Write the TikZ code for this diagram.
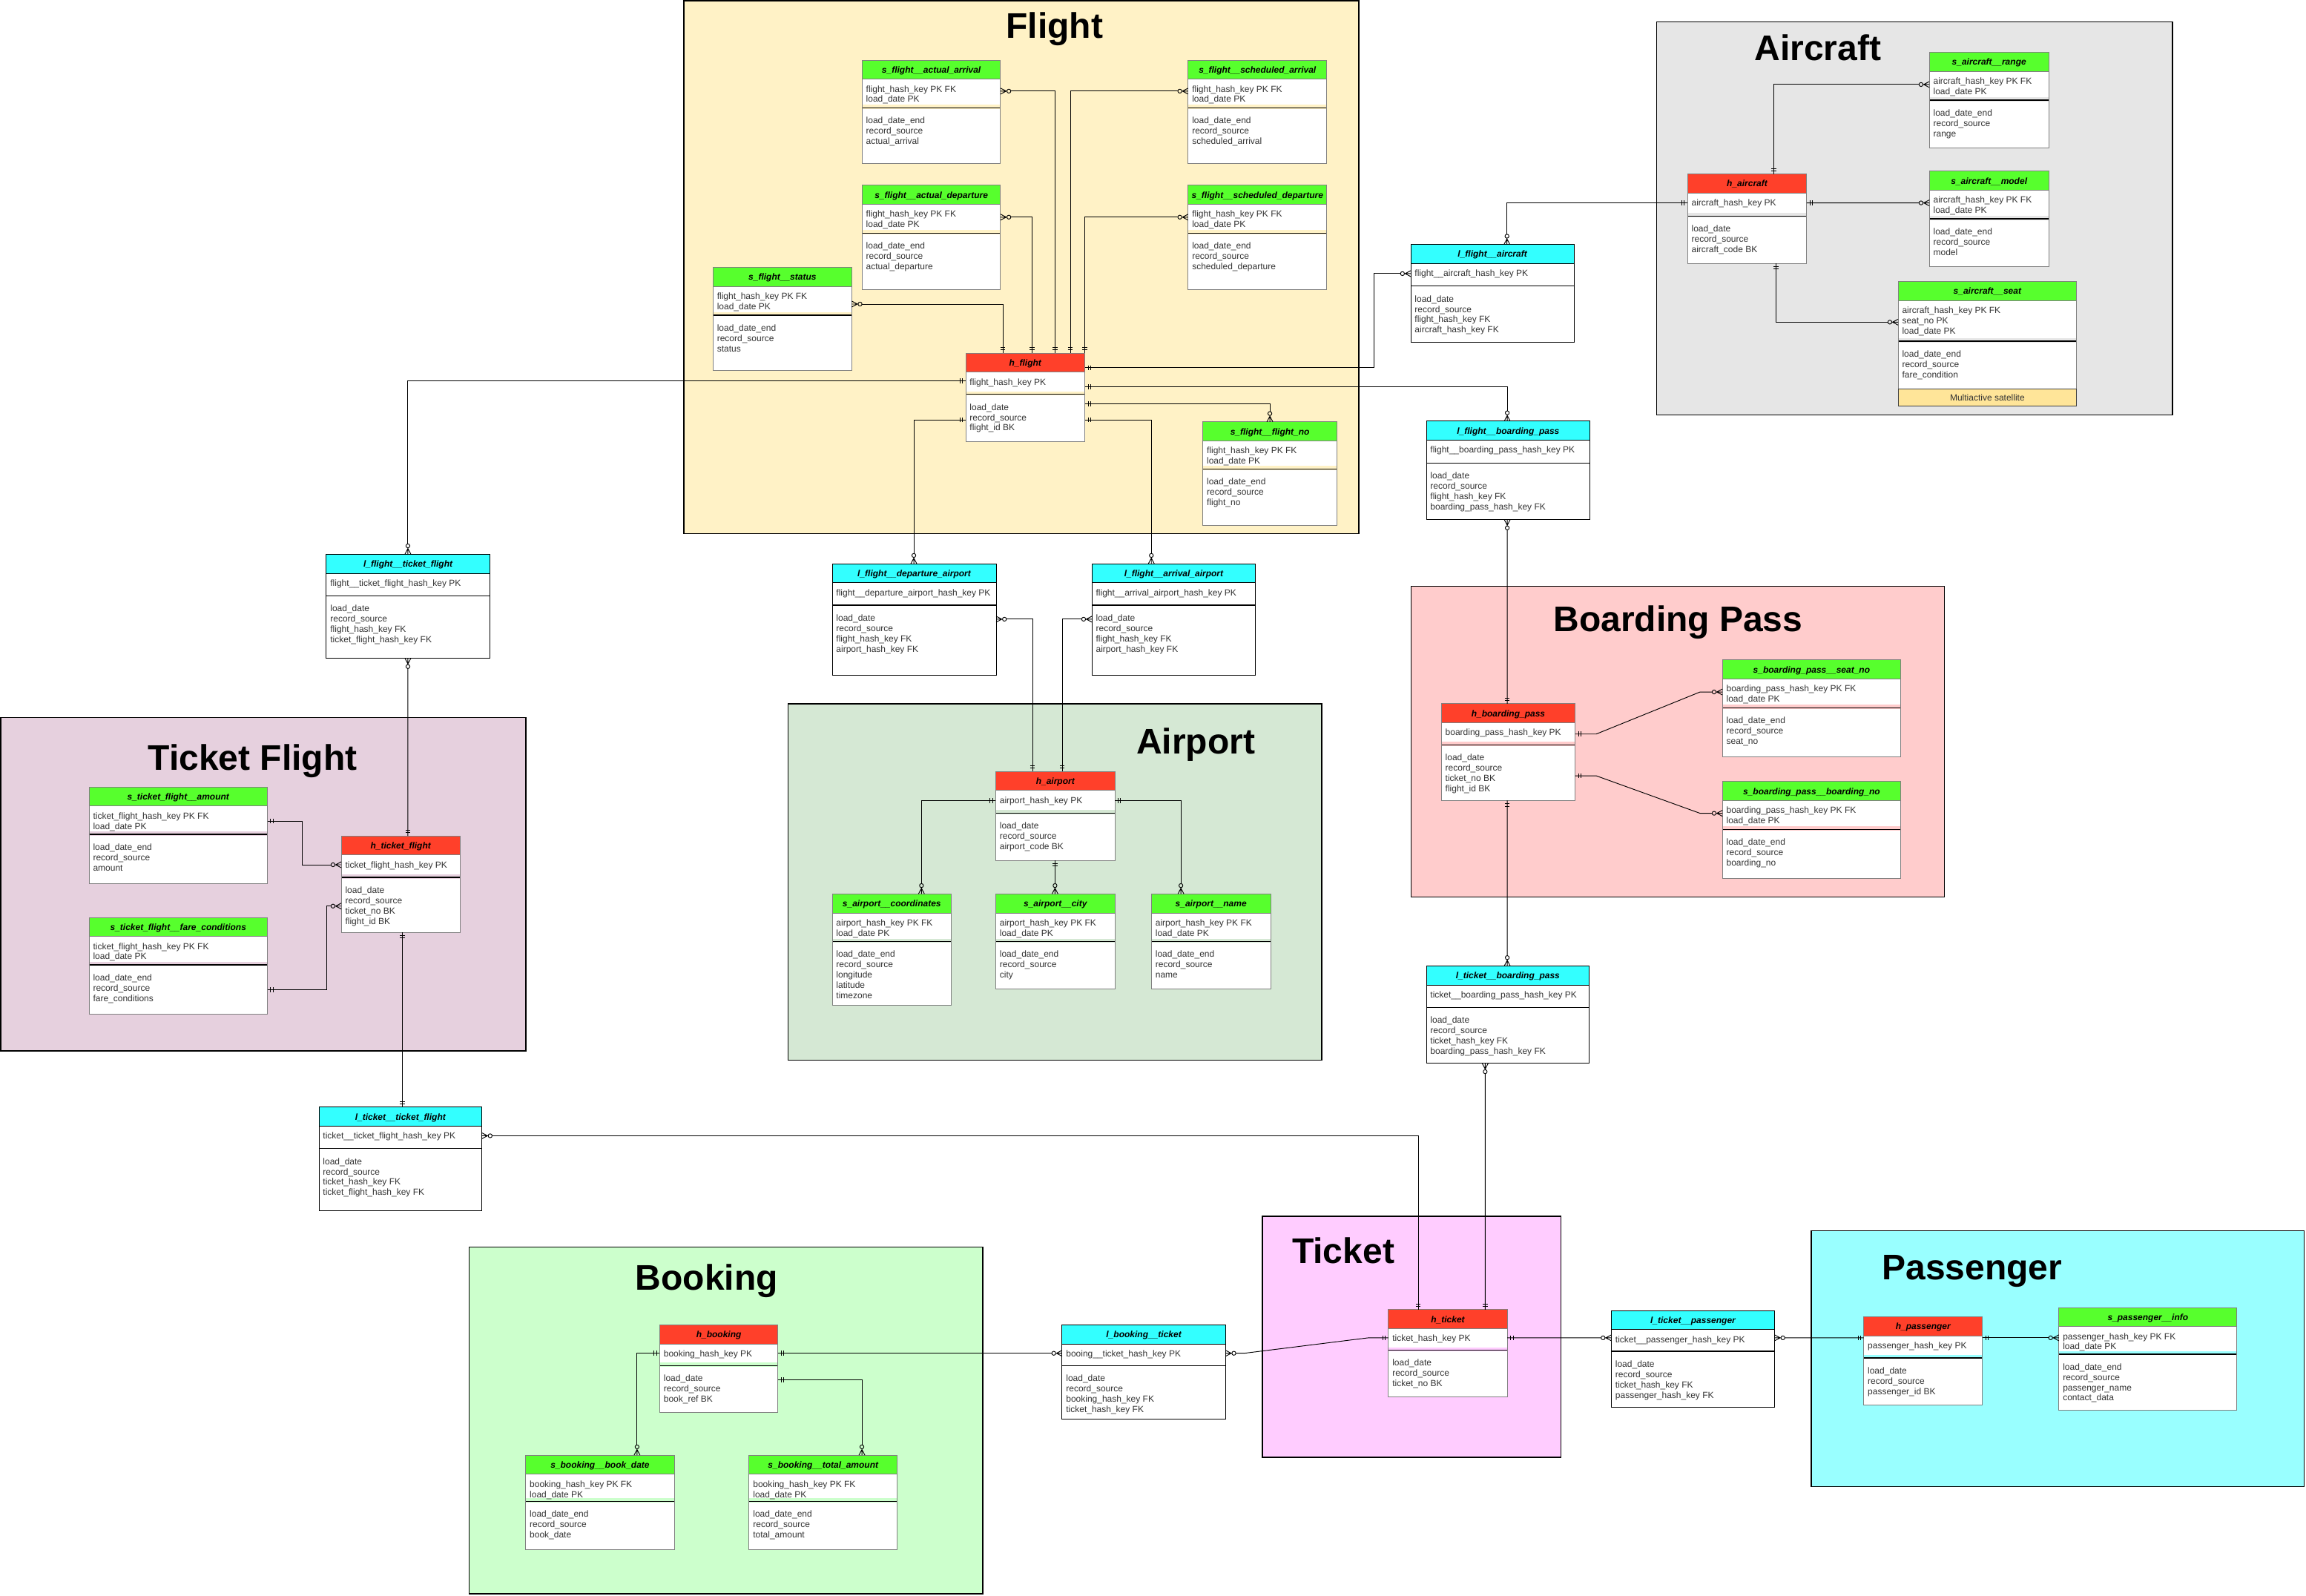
\documentclass[tikz,border=0pt]{standalone}
\usepackage{fontspec}
\setmainfont{Liberation Sans}
\usetikzlibrary{calc,fit}

\definecolor{hubc}{HTML}{FF402A}
\definecolor{satc}{HTML}{57FF2D}
\definecolor{lnkc}{HTML}{33FFFF}
\definecolor{multic}{HTML}{FFE599}
\definecolor{gFlight}{HTML}{FFF2C6}
\definecolor{gAircraft}{HTML}{E6E6E6}
\definecolor{gBP}{HTML}{FFCCCC}
\definecolor{gTF}{HTML}{E6D0DE}
\definecolor{gAirport}{HTML}{D5E8D4}
\definecolor{gBooking}{HTML}{CCFFCC}
\definecolor{gTicket}{HTML}{FFCCFF}
\definecolor{gPass}{HTML}{99FFFF}
\definecolor{bodyc}{HTML}{333333}
\definecolor{edgec}{HTML}{808080}

\pgfdeclarearrow{
  name = ERone,
  setup code = {
    \pgfarrowssettipend{0pt}
    \pgfarrowssetlineend{0pt}
    \pgfarrowssetvisualbackend{-7pt}
    \pgfarrowssetbackend{-7pt}
  },
  drawing code = {
    \pgfsetlinewidth{0.7pt}
    \pgfsetbuttcap
    \pgfpathmoveto{\pgfqpoint{-3.3pt}{-2.5pt}}
    \pgfpathlineto{\pgfqpoint{-3.3pt}{2.5pt}}
    \pgfpathmoveto{\pgfqpoint{-5.8pt}{-2.5pt}}
    \pgfpathlineto{\pgfqpoint{-5.8pt}{2.5pt}}
    \pgfusepathqstroke
  }
}
\pgfdeclarearrow{
  name = ERmany,
  setup code = {
    \pgfarrowssettipend{0pt}
    \pgfarrowssetlineend{-10.4pt}
    \pgfarrowssetvisualbackend{-10.4pt}
    \pgfarrowssetbackend{-10.4pt}
  },
  drawing code = {
    \pgfsetlinewidth{0.7pt}
    \pgfsetbuttcap
    \pgfsetroundjoin
    \pgfpathmoveto{\pgfqpoint{0pt}{3pt}}
    \pgfpathlineto{\pgfqpoint{-5.7pt}{0pt}}
    \pgfpathlineto{\pgfqpoint{0pt}{-3pt}}
    \pgfpathmoveto{\pgfqpoint{0pt}{0pt}}
    \pgfpathlineto{\pgfqpoint{-6.4pt}{0pt}}
    \pgfusepathqstroke
    \pgfpathcircle{\pgfqpoint{-8.4pt}{0pt}}{2pt}
    \pgfusepathqstroke
  }
}

\tikzset{
  hubH/.style={fill=hubc}, hubL/.style={draw=edgec, line width=0.75pt},
  satH/.style={fill=satc}, satL/.style={draw=edgec, line width=0.75pt},
  lnkH/.style={fill=lnkc}, lnkL/.style={draw=black, line width=0.75pt},
  grp/.style={draw=black, line width=1.1pt, inner sep=0pt},
  conn/.style={draw=black, line width=0.7pt},
  tabbox/.style={inner sep=0pt, fill=white, draw=none},
  hdrtxt/.style={font=\fontsize{9pt}{10pt}\selectfont\bfseries\itshape, text=black, inner sep=0pt, anchor=base},
  bodytxt/.style={font=\fontsize{9pt}{10pt}\selectfont, text=bodyc, inner sep=0pt, anchor=base west},
  ttl/.style={font=\fontsize{36pt}{40pt}\selectfont\bfseries, text=black, inner sep=0pt, anchor=base},
}

\newcommand\ertab[9]{%
  \def\tN{#1}\def\tXa{#2}\def\tYa{#3}\def\tXb{#4}\def\tYb{#5}\def\tD{#6}\def\tT{#9}%
  \tikzset{curH/.style={#7H}, curL/.style={#7L}, curB/.style={fill=#8}}%
  \ertabB}
\newcommand\ertabB[2]{%
  \node[tabbox, fit={(\tXa,\tYa) (\tXb,\tYb)}] (\tN) {};
  \fill[curH] (\tN.north west) rectangle ($(\tN.north east)+(0,13)$);
  \fill[curB] ($(\tN.north west)+(0,{\tD-2})$) rectangle ($(\tN.north east)+(0,{\tD+0.8})$);
  \draw[black, line width=1pt] ($(\tN.north west)+(0,\tD)$) -- ($(\tN.north east)+(0,\tD)$);
  \draw[curL] ($(\tN.north west)+(0,13)$) -- ($(\tN.north east)+(0,13)$);
  \draw[curL] (\tN.north west) rectangle (\tN.south east);
  \node[hdrtxt] (\tN-h) at ($(\tN.north)+(0,8.7)$) {\tT};
  \foreach \itm [count=\nn] in {#1} {\node[bodytxt] (\tN-k\nn) at ($(\tN.north west)+(2.6,{21.7+(\nn-1)*7})$) {\itm};}
  \foreach \itm [count=\nn] in {#2} {\node[bodytxt] (\tN-a\nn) at ($(\tN.north west)+(2.6,{\tD+10.8+(\nn-1)*7})$) {\itm};}
}

\begin{document}
\catcode`\_=12
\begin{tikzpicture}[x=1.4873pt, y=-1.4873pt]
\useasboundingbox (0,0) rectangle (1568,1085);

% ---------- groups ----------
\node[grp, fill=gFlight, fit={(465,0.6) (924,363)}] (gFlightBox) {};
\node[grp, fill=gAircraft, fit={(1126.4,15) (1477.2,282.1)}] (gAircraftBox) {};
\node[grp, fill=gBP, fit={(959.4,398.7) (1322,610)}] (gBPBox) {};
\node[grp, fill=gTF, fit={(0.6,488) (357.6,714.7)}] (gTFBox) {};
\node[grp, fill=gAirport, fit={(535.8,478.5) (898.8,721)}] (gAirportBox) {};
\node[grp, fill=gBooking, fit={(319,848) (668.3,1083.8)}] (gBookingBox) {};
\node[grp, fill=gTicket, fit={(858.3,827) (1061.4,991)}] (gTicketBox) {};
\node[grp, fill=gPass, fit={(1231.7,837) (1566.8,1011)}] (gPassBox) {};

\node[ttl] (tFlight) at (717,26) {Flight};
\node[ttl] (tAircraft) at (1236,41) {Aircraft};
\node[ttl] (tBP) at (1141,429.5) {Boarding Pass};
\node[ttl] (tTF) at (171.8,524) {Ticket Flight};
\node[ttl] (tAirport) at (813,512.8) {Airport};
\node[ttl] (tBooking) at (480.6,877.3) {Booking};
\node[ttl] (tTicket) at (913.4,859) {Ticket};
\node[ttl] (tPass) at (1341,870) {Passenger};

% ---------- Flight ----------
\ertab{sfaa}{586.3}{41}{680.2}{111.3}{32.4}{sat}{gFlight}{s_flight__actual_arrival}{flight_hash_key PK FK, load_date PK}{load_date_end, record_source, actual_arrival}
\ertab{sfsa}{808}{41}{902}{111.3}{32.4}{sat}{gFlight}{s_flight__scheduled_arrival}{flight_hash_key PK FK, load_date PK}{load_date_end, record_source, scheduled_arrival}
\ertab{sfad}{586.3}{126.2}{680.2}{196.8}{32.4}{sat}{gFlight}{s_flight__actual_departure}{flight_hash_key PK FK, load_date PK}{load_date_end, record_source, actual_departure}
\ertab{sfsd}{808}{126.2}{902}{196.8}{32.4}{sat}{gFlight}{s_flight__scheduled_departure}{flight_hash_key PK FK, load_date PK}{load_date_end, record_source, scheduled_departure}
\ertab{sfst}{485}{182}{579}{252}{32.4}{sat}{gFlight}{s_flight__status}{flight_hash_key PK FK, load_date PK}{load_date_end, record_source, status}
\ertab{hf}{656.8}{240.3}{737.5}{300}{28}{hub}{gFlight}{h_flight}{flight_hash_key PK}{load_date, record_source, flight_id BK}
\ertab{sffn}{818}{287}{909}{357}{32}{sat}{gFlight}{s_flight__flight_no}{flight_hash_key PK FK, load_date PK}{load_date_end, record_source, flight_no}

% ---------- Aircraft ----------
\ertab{sar}{1312}{35.8}{1393}{100.4}{32.4}{sat}{gAircraft}{s_aircraft__range}{aircraft_hash_key PK FK, load_date PK}{load_date_end, record_source, range}
\ertab{ha}{1147.6}{118.5}{1228.4}{179}{28.5}{hub}{gAircraft}{h_aircraft}{aircraft_hash_key PK}{load_date, record_source, aircraft_code BK}
\ertab{sam}{1312}{116.6}{1393}{181}{32.3}{sat}{gAircraft}{s_aircraft__model}{aircraft_hash_key PK FK, load_date PK}{load_date_end, record_source, model}
\ertab{sas}{1290.8}{191.6}{1411.8}{276.2}{40.6}{sat}{gAircraft}{s_aircraft__seat}{aircraft_hash_key PK FK, seat_no PK, load_date PK}{load_date_end, record_source, fare_condition}
\fill[multic] ($(sas.south west)+(0,-11.7)$) rectangle (sas.south east);
\draw[black!75, line width=0.75pt] ($(sas.south west)+(0,-11.7)$) rectangle (sas.south east);
\node[bodytxt, anchor=base] (sasm) at ($(sas.south)+(0,-3.6)$) {Multiactive satellite};
\ertab{lfa}{959.4}{166.4}{1070.2}{232.8}{28.3}{lnk}{white}{l_flight__aircraft}{flight__aircraft_hash_key PK}{load_date, record_source, flight_hash_key FK, aircraft_hash_key FK}

% ---------- Boarding pass ----------
\ertab{lfbp}{970}{286.5}{1081}{353.2}{28.5}{lnk}{white}{l_flight__boarding_pass}{flight__boarding_pass_hash_key PK}{load_date, record_source, flight_hash_key FK, boarding_pass_hash_key FK}
\ertab{hbp}{980.2}{478.7}{1070.9}{544.2}{28}{hub}{gBP}{h_boarding_pass}{boarding_pass_hash_key PK}{load_date, record_source, ticket_no BK, flight_id BK}
\ertab{sbps}{1171.3}{448.9}{1292.3}{514.5}{32.5}{sat}{gBP}{s_boarding_pass__seat_no}{boarding_pass_hash_key PK FK, load_date PK}{load_date_end, record_source, seat_no}
\ertab{sbpb}{1171.3}{531.6}{1292.3}{597.2}{32.5}{sat}{gBP}{s_boarding_pass__boarding_no}{boarding_pass_hash_key PK FK, load_date PK}{load_date_end, record_source, boarding_no}
\ertab{ltbp}{970}{657}{1080.5}{723}{28.3}{lnk}{white}{l_ticket__boarding_pass}{ticket__boarding_pass_hash_key PK}{load_date, record_source, ticket_hash_key FK, boarding_pass_hash_key FK}

% ---------- Ticket flight ----------
\ertab{lftf}{222}{377}{332.9}{447.5}{28.2}{lnk}{white}{l_flight__ticket_flight}{flight__ticket_flight_hash_key PK}{load_date, record_source, flight_hash_key FK, ticket_flight_hash_key FK}
\ertab{stfa}{60.7}{535.3}{181.7}{600.6}{32.2}{sat}{gTF}{s_ticket_flight__amount}{ticket_flight_hash_key PK FK, load_date PK}{load_date_end, record_source, amount}
\ertab{stfc}{60.7}{624}{181.7}{689.5}{32.2}{sat}{gTF}{s_ticket_flight__fare_conditions}{ticket_flight_hash_key PK FK, load_date PK}{load_date_end, record_source, fare_conditions}
\ertab{htf}{232.2}{568.6}{312.7}{633.9}{28.2}{hub}{gTF}{h_ticket_flight}{ticket_flight_hash_key PK}{load_date, record_source, ticket_no BK, flight_id BK}
\ertab{lttf}{217}{753}{327.5}{823}{28.2}{lnk}{white}{l_ticket__ticket_flight}{ticket__ticket_flight_hash_key PK}{load_date, record_source, ticket_hash_key FK, ticket_flight_hash_key FK}

% ---------- Airport ----------
\ertab{lfda}{566}{383.5}{677.2}{458.9}{28.2}{lnk}{white}{l_flight__departure_airport}{flight__departure_airport_hash_key PK}{load_date, record_source, flight_hash_key FK, airport_hash_key FK}
\ertab{lfaa}{742.6}{383.5}{853.6}{458.9}{28.2}{lnk}{white}{l_flight__arrival_airport}{flight__arrival_airport_hash_key PK}{load_date, record_source, flight_hash_key FK, airport_hash_key FK}
\ertab{hap}{677.2}{524.7}{757.9}{585}{28.4}{hub}{gAirport}{h_airport}{airport_hash_key PK}{load_date, record_source, airport_code BK}
\ertab{sac}{566}{608}{646.7}{683.4}{32.4}{sat}{gAirport}{s_airport__coordinates}{airport_hash_key PK FK, load_date PK}{load_date_end, record_source, longitude, latitude, timezone}
\ertab{scity}{677.2}{608}{757.9}{672.3}{32.4}{sat}{gAirport}{s_airport__city}{airport_hash_key PK FK, load_date PK}{load_date_end, record_source, city}
\ertab{san}{783.1}{608}{863.8}{672.3}{32.4}{sat}{gAirport}{s_airport__name}{airport_hash_key PK FK, load_date PK}{load_date_end, record_source, name}

% ---------- Booking ----------
\ertab{hb}{448.7}{901}{528.8}{960.2}{27.8}{hub}{gBooking}{h_booking}{booking_hash_key PK}{load_date, record_source, book_ref BK}
\ertab{lbt}{722.3}{901}{833.2}{965}{27.8}{lnk}{white}{l_booking__ticket}{booing__ticket_hash_key PK}{load_date, record_source, booking_hash_key FK, ticket_hash_key FK}
\ertab{sbd}{357.6}{989.7}{458.4}{1053.6}{31.4}{sat}{gBooking}{s_booking__book_date}{booking_hash_key PK FK, load_date PK}{load_date_end, record_source, book_date}
\ertab{sbt}{509.5}{989.7}{609.9}{1053.6}{31.4}{sat}{gBooking}{s_booking__total_amount}{booking_hash_key PK FK, load_date PK}{load_date_end, record_source, total_amount}

% ---------- Ticket / Passenger ----------
\ertab{ht}{944.2}{890.7}{1024.8}{949.8}{27.6}{hub}{gTicket}{h_ticket}{ticket_hash_key PK}{load_date, record_source, ticket_no BK}
\ertab{ltp}{1095.8}{891.3}{1206.5}{956.8}{27.8}{lnk}{white}{l_ticket__passenger}{ticket__passenger_hash_key PK}{load_date, record_source, ticket_hash_key FK, passenger_hash_key FK}
\ertab{hp}{1267.4}{895.7}{1347.9}{955.3}{27.8}{hub}{gPass}{h_passenger}{passenger_hash_key PK}{load_date, record_source, passenger_id BK}
\ertab{spi}{1400.1}{889.3}{1520.9}{958.9}{31.7}{sat}{gPass}{s_passenger__info}{passenger_hash_key PK FK, load_date PK}{load_date_end, record_source, passenger_name, contact_data}

% ---------- connectors ----------
% flight satellites
\draw[conn,{ERmany}-{ERone}] ($(sfst.north east)+(0,24.9)$) -| ($(hf.north west)+(25.2,0)$);
\draw[conn,{ERmany}-{ERone}] ($(sfad.north east)+(0,21.6)$) -| ($(hf.north west)+(45.1,0)$);
\draw[conn,{ERmany}-{ERone}] ($(sfaa.north east)+(0,21.1)$) -| ($(hf.north west)+(60.7,0)$);
\draw[conn,{ERmany}-{ERone}] ($(sfsa.north west)+(0,21.1)$) -| ($(hf.north west)+(71.1,0)$);
\draw[conn,{ERmany}-{ERone}] ($(sfsd.north west)+(0,21.6)$) -| (hf.north east);
\draw[conn,{ERmany}-{ERone}] ($(sffn.north west)+(45.6,0)$) |- ($(hf.north east)+(0,34.3)$);
% flight links
\draw[conn,{ERmany}-{ERone}] ($(lfa.north west)+(0,19.8)$) -- ++(-25,0) |- ($(hf.north east)+(0,9.9)$);
\draw[conn,{ERmany}-{ERone}] ($(lfbp.north west)+(55,0)$) |- ($(hf.north east)+(0,22.8)$);
\draw[conn,{ERmany}-{ERone}] ($(lfaa.north west)+(40.4,0)$) |- ($(hf.north east)+(0,45.3)$);
\draw[conn,{ERmany}-{ERone}] ($(lfda.north west)+(55.5,0)$) |- ($(hf.north west)+(0,45.3)$);
\draw[conn,{ERmany}-{ERone}] ($(lftf.north west)+(55.5,0)$) |- ($(hf.north west)+(0,18.9)$);
% aircraft
\draw[conn,{ERmany}-{ERone}] ($(sar.north west)+(0,21.8)$) -| ($(ha.north west)+(58.6,0)$);
\draw[conn,{ERmany}-{ERone}] ($(sam.north west)+(0,21.5)$) -- ($(ha.north east)+(0,19.6)$);
\draw[conn,{ERmany}-{ERone}] ($(sas.north west)+(0,27.6)$) -| ($(ha.south west)+(60.3,0)$);
\draw[conn,{ERmany}-{ERone}] ($(lfa.north west)+(65.4,0)$) |- ($(ha.north west)+(0,19.6)$);
% boarding pass
\draw[conn,{ERmany}-{ERone}] ($(lfbp.south west)+(55,0)$) -- ($(hbp.north west)+(44.8,0)$);
\draw[conn,{ERmany}-{ERone}] ($(sbps.north west)+(0,21.8)$) -- ++(-15.2,0) -- ++(-70.6,28.6) -- ($(hbp.north east)+(0,20.6)$);
\draw[conn,{ERmany}-{ERone}] ($(sbpb.north west)+(0,21.6)$) -- ++(-15.2,0) -- ++(-70.6,-25.5) -- ($(hbp.north east)+(0,49)$);
\draw[conn,{ERmany}-{ERone}] ($(ltbp.north west)+(55,0)$) -- ($(hbp.south west)+(44.8,0)$);
\draw[conn,{ERmany}-{ERone}] ($(ltbp.south west)+(40,0)$) -- ($(ht.north west)+(65.8,0)$);
% ticket flight
\draw[conn,{ERmany}-{ERone}] ($(lftf.south west)+(55.5,0)$) -- ($(htf.north west)+(45.3,0)$);
\draw[conn,{ERone}-{ERmany}] ($(stfa.north east)+(0,23.2)$) -- ++(23.6,0) |- ($(htf.north west)+(0,19.6)$);
\draw[conn,{ERone}-{ERmany}] ($(stfc.north east)+(0,49.1)$) -- ++(40.3,0) |- ($(htf.north west)+(0,47.7)$);
\draw[conn,{ERone}-{ERone}] ($(htf.south west)+(41.7,0)$) -- ($(lttf.north west)+(56.9,0)$);
\draw[conn,{ERmany}-{ERone}] ($(lttf.north east)+(0,19.5)$) -| ($(ht.north west)+(20.3,0)$);
% airport
\draw[conn,{ERmany}-{ERone}] ($(lfda.north east)+(0,37.7)$) -| ($(hap.north west)+(25,0)$);
\draw[conn,{ERmany}-{ERone}] ($(lfaa.north west)+(0,37.7)$) -| ($(hap.north west)+(45.2,0)$);
\draw[conn,{ERone}-{ERmany}] ($(hap.north west)+(0,19.8)$) -| ($(sac.north west)+(60.7,0)$);
\draw[conn,{ERone}-{ERmany}] ($(hap.north east)+(0,19.8)$) -| ($(san.north west)+(20,0)$);
\draw[conn,{ERone}-{ERmany}] ($(hap.south west)+(40.3,0)$) -- ($(scity.north west)+(40.3,0)$);
% booking
\draw[conn,{ERone}-{ERmany}] ($(hb.north east)+(0,19.4)$) -- ($(lbt.north west)+(0,19.4)$);
\draw[conn,{ERone}-{ERmany}] ($(hb.north west)+(0,19.4)$) -| ($(sbd.north west)+(75.7,0)$);
\draw[conn,{ERone}-{ERmany}] ($(hb.north east)+(0,37.6)$) -| ($(sbt.north west)+(76.7,0)$);
\draw[conn,{ERmany}-{ERone}] ($(lbt.north east)+(0,19.4)$) -- ++(12.6,0) -- ++(84.4,-10.5) -- ($(ht.north west)+(0,19.2)$);
% ticket / passenger
\draw[conn,{ERone}-{ERmany}] ($(ht.north east)+(0,19.2)$) -- ($(ltp.north west)+(0,18.6)$);
\draw[conn,{ERmany}-{ERone}] ($(ltp.north east)+(0,18.6)$) -- ($(hp.north west)+(0,14.2)$);
\draw[conn,{ERone}-{ERmany}] ($(hp.north east)+(0,14.2)$) -- ($(spi.north west)+(0,20.6)$);
\end{tikzpicture}
\end{document}
